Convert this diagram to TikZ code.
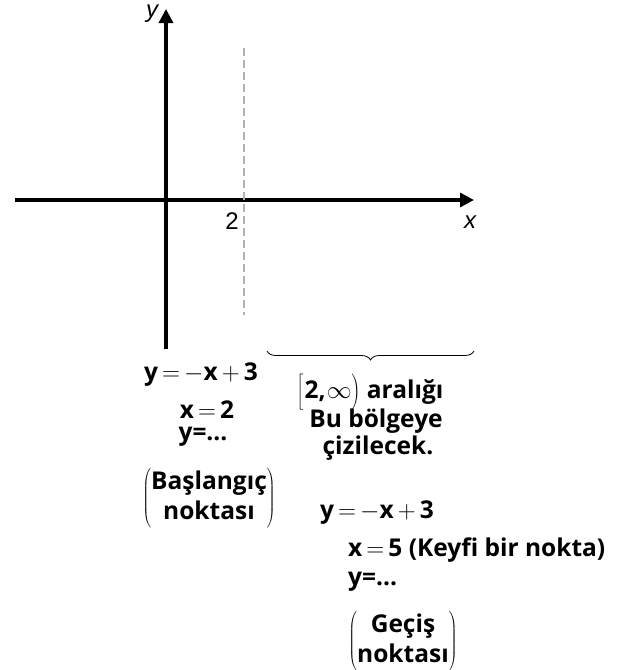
\documentclass[tikz,border=0pt]{standalone}
\usepackage{fontspec}
\setmainfont{Open Sans}
\newfontfamily\axfont{Liberation Sans}
\usetikzlibrary{arrows.meta,decorations.pathreplacing}
\newcommand{\opr}[1]{\,{\fontseries{m}\selectfont #1}\,}
\newcommand{\bfs}{\fontsize{24.5}{30}\selectfont\bfseries}
\newcommand{\tallstrut}{\rule[-10pt]{0pt}{35pt}}
\begin{document}
\begin{tikzpicture}[x=1pt,y=-1pt,
  axis/.style={line width=3.3pt,-{Triangle[length=14pt,width=14pt]}},
  lbl/.style={font=\bfs, inner sep=0pt},
  axl/.style={font=\axfont\fontsize{24}{28}\selectfont, inner sep=0pt}]
\useasboundingbox (0,0) rectangle (640,670);
\fill[white] (0,0) rectangle (640,670);
% axes
\coordinate (xl) at (15,200);
\coordinate (xr) at (474,200);
\coordinate (yb) at (166,349);
\coordinate (yt) at (166,9);
\draw[axis] (xl) -- (xr);
\draw[axis] (yb) -- (yt);
\coordinate (dt) at (244,48);
\coordinate (db) at (244,315);
\draw[gray!60, line width=2pt, dash pattern=on 8pt off 4pt] (dt) -- (db);
\node[axl] (two) at (232,221) {2};
\node[axl,font=\axfont\itshape\fontsize{24}{28}\selectfont] (xlab) at (470,222) {x};
\node[axl,font=\axfont\itshape\fontsize{24}{28}\selectfont] (ylab) at (152,14) {y};
% brace
\coordinate (bl) at (267,351);
\coordinate (br) at (474,351);
\draw[line width=0.8pt, decorate, decoration={brace, mirror, amplitude=9pt}] (bl) -- (br);
% left block
\node[lbl] (l1) at (201,375) {y\opr{$=$}$-$x\opr{$+$}3};
\node[lbl] (l2) at (207,410) {x\opr{$=$}2};
\node[lbl] (l3) at (203,437) {y=...};
\node[lbl] (l4) at (209,498) {$\left(\begin{tabular}{@{}c@{}}\bfs Başlangıç\\[0pt]\bfs noktası\end{tabular}\right)$};
% right block
\node[lbl] (r1) at (370,392) {$\left[\tallstrut\right.$2,$\left.\tallstrut\infty\right)$ aralığı};
\node[lbl] (r2) at (376,421) {Bu bölgeye};
\node[lbl] (r3) at (378,448) {çizilecek.};
\node[lbl] (r4) at (377,513) {y\opr{$=$}$-$x\opr{$+$}3};
\node[lbl,anchor=west] (r5) at (348,550) {x\opr{$=$}5 (Keyfi bir nokta)};
\node[lbl,anchor=west] (r6) at (348,582) {y=...};
\node[lbl] (r7) at (403,641) {$\left(\begin{tabular}{@{}c@{}}\bfs Geçiş\\[0pt]\bfs noktası\end{tabular}\right)$};
\end{tikzpicture}
\end{document}
